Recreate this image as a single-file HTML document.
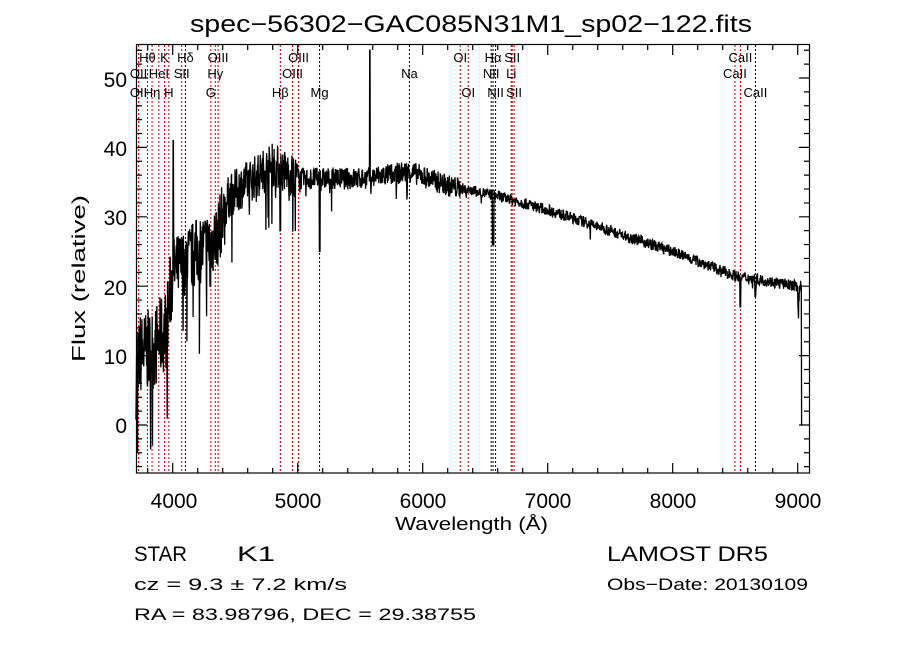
<!DOCTYPE html>
<html><head><meta charset="utf-8"><style>
html,body{margin:0;padding:0;background:#fff;}
svg text{font-family:"Liberation Sans","DejaVu Sans",sans-serif;fill:#000;}
</style></head><body>
<svg id="s" width="900" height="649" xmlns="http://www.w3.org/2000/svg">
<rect width="900" height="649" fill="#fff"/>
<text x="190" y="32" font-size="24" textLength="562" lengthAdjust="spacingAndGlyphs">spec−56302−GAC085N31M1_sp02−122.fits</text>
<g id="lines"></g>
<path id="spec" fill="none" stroke="#000" stroke-width="1.3"/>
<rect x="136.5" y="44.5" width="673" height="428.5" fill="none" stroke="#000" stroke-width="1.2"/>
<g id="ticks" stroke="#000" stroke-width="1.2"></g>
<g id="labs" font-size="13"></g>
<g font-size="21">
<text x="174" y="508" text-anchor="middle">4000</text>
<text x="298" y="508" text-anchor="middle">5000</text>
<text x="423" y="508" text-anchor="middle">6000</text>
<text x="548" y="508" text-anchor="middle">7000</text>
<text x="673" y="508" text-anchor="middle">8000</text>
<text x="798" y="508" text-anchor="middle">9000</text>
<text x="127" y="433" text-anchor="end">0</text>
<text x="127" y="364" text-anchor="end">10</text>
<text x="127" y="295" text-anchor="end">20</text>
<text x="127" y="225" text-anchor="end">30</text>
<text x="127" y="156" text-anchor="end">40</text>
<text x="127" y="87" text-anchor="end">50</text>
</g>
<text x="395" y="530" font-size="18" textLength="153" lengthAdjust="spacingAndGlyphs">Wavelength (Å)</text>
<text transform="translate(85,362) rotate(-90)" font-size="18" textLength="167" lengthAdjust="spacingAndGlyphs">Flux (relative)</text>
<text x="134" y="561" font-size="21" textLength="53" lengthAdjust="spacingAndGlyphs">STAR</text>
<text x="237" y="561" font-size="21" textLength="38" lengthAdjust="spacingAndGlyphs">K1</text>
<text x="134" y="590" font-size="17" textLength="213" lengthAdjust="spacingAndGlyphs">cz = 9.3 ± 7.2 km/s</text>
<text x="134" y="620" font-size="17" textLength="342" lengthAdjust="spacingAndGlyphs">RA =  83.98796, DEC =  29.38755</text>
<text x="607" y="561" font-size="21" textLength="161" lengthAdjust="spacingAndGlyphs">LAMOST  DR5</text>
<text x="607" y="590" font-size="17" textLength="201" lengthAdjust="spacingAndGlyphs">Obs−Date: 20130109</text>
</svg>
<script>
var X=function(w){return 172.7+(w-4000)*0.125;};
var Y=function(f){return 425-f*6.94;};
var NS="http://www.w3.org/2000/svg";
function el(p,t,a,txt){var e=document.createElementNS(NS,t);for(var k in a)e.setAttribute(k,a[k]);if(txt)e.textContent=txt;p.appendChild(e);return e;}
var L=[[3727,'r'],[3798,'r'],[3835,'r'],[3889,'r'],[3934,'r'],[3969,'r'],[4072,'r'],[4102,'k'],[4305,'r'],[4341,'r'],[4363,'r'],[4861,'r'],[4959,'r'],[5007,'r'],[5175,'k'],[5894,'k'],[6300,'r'],[6364,'r'],[6548,'k'],[6563,'k'],[6583,'k'],[6708,'r'],[6716,'r'],[6731,'r'],[8498,'r'],[8542,'r'],[8662,'k']];
var g=document.getElementById('lines');
L.forEach(function(l){var x=X(l[0]);el(g,'line',{x1:x,x2:x,y1:45,y2:473,stroke:l[1]=='r'?'#c00000':'#000','stroke-width':1,'stroke-dasharray':'2,2'});});
var lb=document.getElementById('labs');
var T=[['Hθ',3798,62],['K',3934,62],['Hδ',4102,62],['OIII',4363,62],['OIII',5007,62],['OI',6300,62],['Hα',6563,62],['SII',6716,62],['CaII',8542,62],
['OII',3727,78],['HeI',3889,78],['SII',4072,78],['Hγ',4341,78],['OIII',4959,78],['Na',5894,78],['NII',6548,78],['Li',6708,78],['CaII',8498,78],
['OII',3727,97],['Hη',3835,97],['H',3969,97],['G',4305,97],['Hβ',4861,97],['Mg',5175,97],['OI',6364,97],['NII',6583,97],['SII',6731,97],['CaII',8662,97]];
T.forEach(function(t){el(lb,'text',{x:X(t[1]),y:t[2],'text-anchor':'middle'},t[0]);});
var tk=document.getElementById('ticks'),d='';
for(var w=3800;w<=9000;w+=200){var x=X(w),big=(w%1000==0);d+='M'+x+' 473V'+(473-(big?10:5))+'M'+x+' 45V'+(45+(big?10:5));}
for(var f=-6;f<=54;f+=2){var y=Y(f),big=(f%10==0);d+='M137 '+y+'H'+(137+(big?10:5))+'M809 '+y+'H'+(809-(big?10:5));}
el(tk,'path',{d:d,fill:'none'});
var seed=7;function r(){seed=(seed*16807)%2147483647;return seed/2147483647;}
function base(w){var pts=[[3700,10],[3850,11],[3950,14],[4000,22],[4200,25],[4350,27],[4450,33],[4600,35],[4800,37.5],[5000,35.5],[5500,35.5],[5900,36.5],[6200,34.5],[6600,33],[7000,31],[7500,28],[8000,25],[8500,21.5],[9000,20],[9100,20]];
for(var i=0;i<pts.length-1;i++){if(w<=pts[i+1][0]){var a=pts[i],b=pts[i+1];return a[1]+(b[1]-a[1])*(w-a[0])/(b[0]-a[0]);}}return 20;}
var p='';
for(var w=3706;w<=9040;w+=2.5){var f=base(w);var amp=w<4000?6:w<4400?5:w<5000?3.2:w<6300?1.6:0.8;f+=(r()-0.5)*2*amp;
if(r()<(w<5300?0.05:0.012))f-=amp*2.5*r();
if(w<3730)f=-5+r()*20;
if(Math.abs(w-4005)<3)f=41;
if(Math.abs(w-5577)<2)f=54;
if(Math.abs(w-6563)<6)f=26;
if(Math.abs(w-5175)<4)f=25;if(Math.abs(w-4861)<4)f=28;if(Math.abs(w-4300)<4)f=20;
if(Math.abs(w-8542)<4)f=17;if(Math.abs(w-8662)<4)f=18.5;
if(w>9000&&w<9012)f=15+r()*6;if(w>=9030)f=0;
p+=(p?'L':'M')+X(w).toFixed(1)+' '+Y(f).toFixed(1);}
document.getElementById('spec').setAttribute('d',p);
</script>
</body></html>
